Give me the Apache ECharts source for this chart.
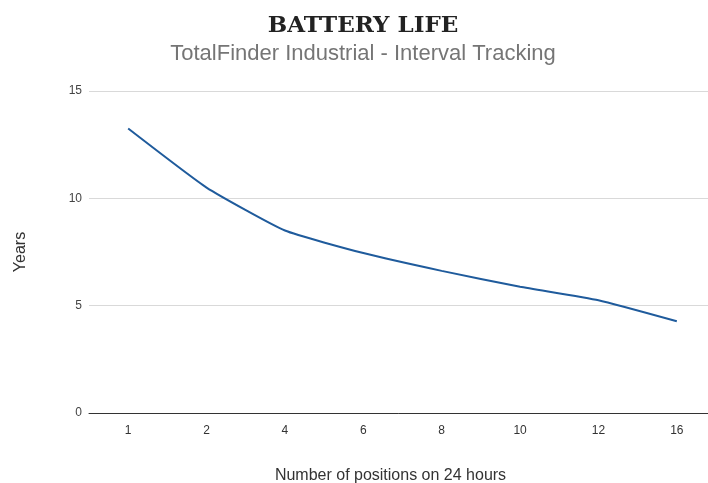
<!DOCTYPE html>
<html>
<head>
<meta charset="utf-8">
<script src="https://cdn.jsdelivr.net/npm/echarts@6/dist/echarts.min.js"></script>
<style>
    html, body { margin: 0; padding: 0; background: #fff; }
    #chart { width: 708px; height: 483px; }
</style>
</head>
<body>
<div id="chart"></div>
<script>
// positions per 24h and battery life in years
var positions = ['1', '2', '4', '6', '8', '10', '12', '16'];
var years = [13.25, 10.5, 8.5, 7.45, 6.62, 5.88, 5.25, 4.27];

var chart = echarts.init(document.getElementById('chart'));
var option = {
    animation: false,
    title: [
        {
            text: 'BATTERY LIFE',
            left: 358,
            top: 10,
            textAlign: 'center',
            textStyle: {
                fontFamily: 'DejaVu Serif',
                fontWeight: 'bold',
                fontSize: 23,
                color: '#222'
            }
        },
        {
            text: 'TotalFinder Industrial - Interval Tracking',
            left: 358,
            top: 38,
            textAlign: 'center',
            textStyle: {
                fontFamily: 'Liberation Sans',
                fontWeight: 'normal',
                fontSize: 22,
                color: '#757575'
            }
        }
    ],
    grid: {
        left: 89,
        right: -8,
        top: 91,
        bottom: 70,
        outerBoundsMode: 'none'
    },
    xAxis: {
        type: 'category',
        data: positions,
        boundaryGap: true,
        name: 'Number of positions on 24 hours',
        nameLocation: 'middle',
        nameGap: 55,
        nameTextStyle: {
            fontFamily: 'Liberation Sans',
            fontSize: 16,
            color: '#333',
            padding: [0, 24, 0, 0]
        },
        axisLine: { lineStyle: { color: '#333', width: 1 } },
        axisTick: { show: false },
        axisLabel: {
            fontFamily: 'Liberation Sans',
            fontSize: 12,
            color: '#333',
            margin: 12
        }
    },
    yAxis: {
        type: 'value',
        min: 0,
        max: 15,
        interval: 5,
        name: 'Years',
        nameLocation: 'middle',
        nameGap: 60,
        nameTextStyle: {
            fontFamily: 'Liberation Sans',
            fontSize: 16,
            color: '#333'
        },
        axisLine: { show: false },
        axisTick: { show: false },
        splitLine: { lineStyle: { color: '#d9d9d9', width: 1 } },
        axisLabel: {
            fontFamily: 'Liberation Sans',
            fontSize: 12,
            color: '#444',
            margin: 7
        }
    },
    series: [
        {
            type: 'line',
            data: years,
            smooth: 0.15,
            showSymbol: false,
            lineStyle: { color: '#1f5b9c', width: 2 }
        }
    ]
};
chart.setOption(option);
</script>
</body>
</html>
